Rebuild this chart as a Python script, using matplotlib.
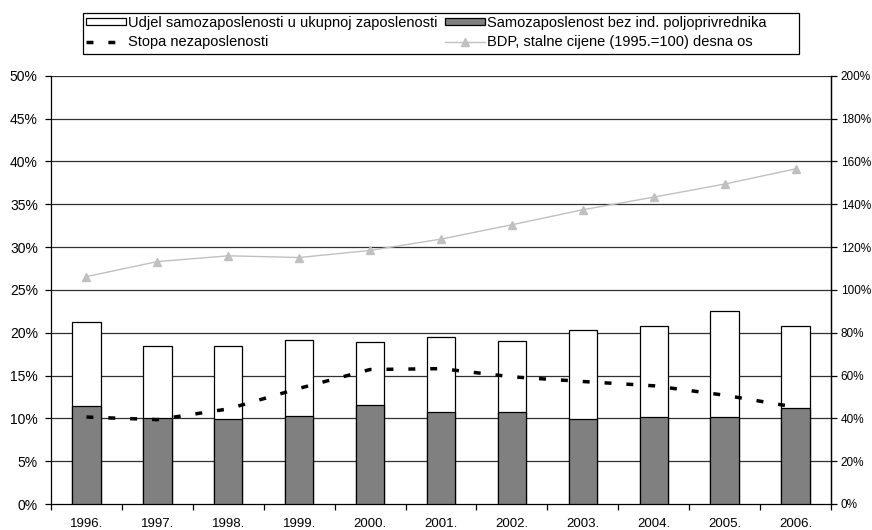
import matplotlib
matplotlib.use("Agg")
import matplotlib.pyplot as plt
from matplotlib.ticker import FuncFormatter, MultipleLocator, FixedLocator
from matplotlib.patches import Rectangle

plt.rcParams['font.family'] = ['Liberation Sans', 'DejaVu Sans']

years = ["1996.", "1997.", "1998.", "1999.", "2000.", "2001.", "2002.", "2003.", "2004.", "2005.", "2006."]
udjel = [21.2, 18.4, 18.4, 19.1, 18.9, 19.45, 19.0, 20.35, 20.8, 22.5, 20.75]
samozap = [11.4, 10.0, 9.95, 10.3, 11.6, 10.7, 10.7, 9.9, 10.1, 10.2, 11.2]
nezap = [10.15, 9.85, 11.1, 13.5, 15.7, 15.8, 14.85, 14.3, 13.8, 12.7, 11.3]
bdp = [106.2, 113.2, 115.9, 115.1, 118.4, 123.7, 130.4, 137.4, 143.3, 149.4, 156.5]

W, H = 872, 530
fig = plt.figure(figsize=(W / 100, H / 100), dpi=100)
ax = fig.add_axes([51 / W, 26 / H, 780 / W, 428.3 / H])
x = list(range(len(years)))

ax.set_axisbelow(True)
for yv in range(5, 55, 5):
    ax.axhline(yv, color='#303030', lw=0.9, zorder=0)

b1 = ax.bar(x, udjel, width=0.40, color='white', edgecolor='black', lw=0.9, zorder=2,
            label='Udjel samozaposlenosti u ukupnoj zaposlenosti')
b2 = ax.bar(x, samozap, width=0.40, color='#808080', edgecolor='black', lw=0.9, zorder=3,
            label='Samozaposlenost bez ind. poljoprivrednika')
l1, = ax.plot(x, nezap, color='black', lw=2.5, ls=(0, (2, 4.3)), zorder=4, label='Stopa nezaposlenosti')

ax.set_xlim(-0.5, len(years) - 0.5)
ax.set_ylim(0, 50)
ax.yaxis.set_major_locator(MultipleLocator(5))
ax.yaxis.set_major_formatter(FuncFormatter(lambda v, p: f"{v:.0f}%"))
ax.set_xticks(x)
ax.set_xticklabels(years)
ax.xaxis.set_minor_locator(FixedLocator([i + 0.5 for i in range(-1, len(years))]))
ax.tick_params(axis='x', which='major', length=0, labelsize=9.5, pad=10)
ax.tick_params(axis='x', which='minor', length=4, width=0.9, direction='out')
ax.tick_params(axis='y', length=4, direction='out', labelsize=10, width=0.9, pad=5.5)
for s in ['left', 'right', 'bottom']:
    ax.spines[s].set_linewidth(0.9)
ax.spines['top'].set_visible(False)

ax2 = ax.twinx()
l2, = ax2.plot(x, bdp, color='#C0C0C0', lw=1.0, marker='^', ms=5.5, mec='#C0C0C0', mfc='#C0C0C0',
               zorder=5, label='BDP, stalne cijene (1995.=100) desna os')
ax2.set_ylim(0, 200)
ax2.yaxis.set_major_locator(MultipleLocator(20))
ax2.yaxis.set_major_formatter(FuncFormatter(lambda v, p: f"{v:.0f}%"))
ax2.tick_params(axis='y', length=4, direction='out', labelsize=8.5, width=0.9, pad=3)
for s in ax2.spines.values():
    s.set_visible(False)
ax2.spines['right'].set_visible(True)
ax2.spines['right'].set_linewidth(0.9)

# legend frame drawn separately (wide box as in reference)
fig.patches.append(Rectangle((83 / W, 1 - 54 / H), 716 / W, 41 / H,
                             transform=fig.transFigure, fill=False, edgecolor='black', lw=0.9))
handles = [b1, l1, b2, l2]
leg = fig.legend(handles, [h.get_label() for h in handles],
                 ncol=2, loc='upper left', bbox_to_anchor=(86 / W, 1 - 16 / H),
                 frameon=False, prop={'size': 10.5},
                 handlelength=2.75, handleheight=0.35, handletextpad=0.12, columnspacing=0.5,
                 borderpad=0.0, labelspacing=0.35, borderaxespad=0)

fig.savefig("out.png", dpi=100)
